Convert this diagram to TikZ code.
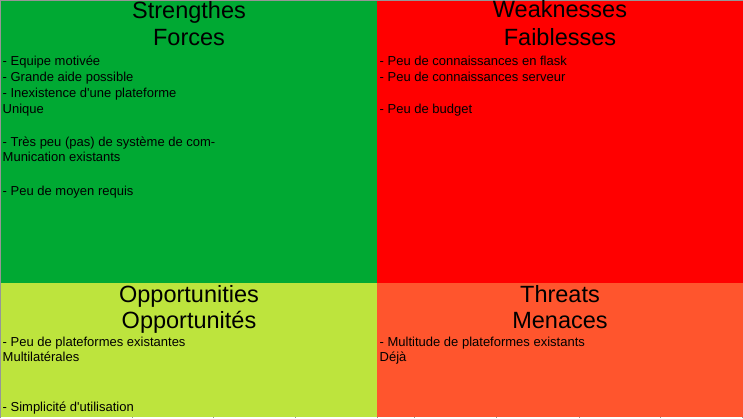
\documentclass[tikz,border=0pt]{standalone}
\usepackage{fontspec}
\setmainfont[Ligatures=TeXOff]{Liberation Sans}
\definecolor{swotgreen}{RGB}{0,169,51}
\definecolor{swotred}{RGB}{255,0,0}
\definecolor{swotlime}{RGB}{189,228,61}
\definecolor{swotorange}{RGB}{255,85,45}
\definecolor{gridgray}{RGB}{150,150,150}
\begin{document}
\begin{tikzpicture}[x=1bp,y=-1bp,
  title/.style={anchor=base,inner sep=0pt,font=\fontsize{23.5bp}{26bp}\selectfont},
  item/.style={anchor=base west,inner sep=0pt,font=\fontsize{13bp}{16bp}\selectfont},
  tick/.style={draw=gridgray,line width=1bp}]
  \useasboundingbox (0,0) rectangle (743,418);
  % page background and frame
  \fill[white] (0,0) rectangle (743,418);
  \fill[gridgray] (0,0) rectangle (743,1);
  \fill[gridgray] (0,0) rectangle (1,418);
  % quadrants
  \fill[swotgreen]  (1,1)     rectangle (377,283);
  \fill[swotred]    (377,1)   rectangle (743,283);
  \fill[swotlime]   (1,283)   rectangle (377,417);
  \fill[swotorange] (377,283) rectangle (743,417);
  % column marks along the lower edge
  \foreach \cx in {132,213,295,377,414,496,579,660,742}
    \draw[tick] (\cx,416.5) -- (\cx,418);

  % Strengths
  \node[title] (s1) at (189,18.3) {Strengthes};
  \node[title] (s2) at (189,45) {Forces};
  \node[item] (sa) at (2.5,65.3) {- Equipe motivée};
  \node[item] (sb) at (2.5,81.7) {- Grande aide possible};
  \node[item] (sc) at (2.5,97.7) {- Inexistence d'une plateforme};
  \node[item] (sd) at (2.5,113) {Unique};
  \node[item] (se) at (2.5,146.5) {- Très peu (pas) de système de com-};
  \node[item] (sf) at (2.5,161) {Munication existants};
  \node[item] (sg) at (2.5,195) {- Peu de moyen requis};

  % Weaknesses
  \node[title] (w1) at (560,17.8) {Weaknesses};
  \node[title] (w2) at (560,45) {Faiblesses};
  \node[item] (wa) at (379.5,65.3) {- Peu de connaissances en flask};
  \node[item] (wb) at (379.5,81.7) {- Peu de connaissances serveur};
  \node[item] (wc) at (379.5,113) {- Peu de budget};

  % Opportunities
  \node[title] (o1) at (189,302.3) {Opportunities};
  \node[title] (o2) at (189,328.5) {Opportunités};
  \node[item] (oa) at (2.5,346) {- Peu de plateformes existantes};
  \node[item] (ob) at (2.5,361.7) {Multilatérales};
  \node[item] (oc) at (2.5,411.7) {- Simplicité d'utilisation};

  % Threats
  \node[title] (t1) at (560,302.3) {Threats};
  \node[title] (t2) at (560,328.5) {Menaces};
  \node[item] (ta) at (379.5,346) {- Multitude de plateformes existants};
  \node[item] (tb) at (379.5,361.7) {Déjà};
\end{tikzpicture}
\end{document}
